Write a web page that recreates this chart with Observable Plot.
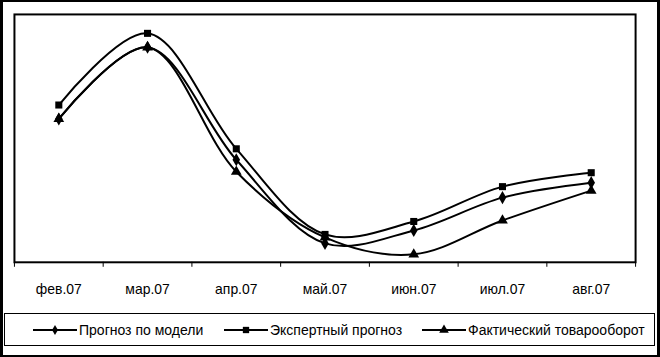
<!DOCTYPE html>
<html>
<head>
<meta charset="utf-8">
<script src="https://cdn.jsdelivr.net/npm/d3@7"></script>
<script src="https://cdn.jsdelivr.net/npm/@observablehq/plot@0.6"></script>
<style>
  html, body { margin: 0; padding: 0; background: #fff; }
  #wrap { position: relative; width: 660px; height: 357px; box-sizing: border-box; border: 2px solid #000; border-left-width: 3px; border-right-width: 3px; overflow: hidden; font-family: "Liberation Sans", Arial, sans-serif; }
  #chart { position: absolute; left: -3px; top: -2px; }
  #legend { position: absolute; left: 1px; top: 311px; width: 651px; height: 33px; box-sizing: border-box; border: 1px solid #000; font-size: 14px; color: #000; }
  .item { position: absolute; top: 0; height: 31px; display: flex; align-items: center; white-space: nowrap; }
  .item svg { margin-right: 2px; }
</style>
</head>
<body>
<div id="wrap"><div id="chart"></div><div id="legend"></div></div>
<script>
const months = ["фев.07", "мар.07", "апр.07", "май.07", "июн.07", "июл.07", "авг.07"];
const seriesNames = ["Прогноз по модели", "Экспертный прогноз", "Фактический товарооборот"];
const modelForecast = [144, 216, 103, 19, 32, 65, 80];
const expertForecast = [158, 230, 114, 28, 41, 76, 90];
const actualTurnover = [144, 216, 91, 25, 8, 42, 72];
const symbols = ["diamond", "square", "triangle"];

const all = [modelForecast, expertForecast, actualTurnover];
const rows = [];
all.forEach((vals, s) => vals.forEach((v, i) => rows.push({series: seriesNames[s], sym: symbols[s], i, v})));

const W = 660, H = 300;
const chart = Plot.plot({
  width: W, height: H,
  marginLeft: 14, marginRight: 22, marginTop: 14, marginBottom: 37,
  style: {fontFamily: "'Liberation Sans', Arial, sans-serif", fontSize: "14px", color: "#000", background: "transparent"},
  x: {type: "linear", domain: [-0.5, months.length - 0.5], label: null},
  y: {domain: [0, 249], axis: null, label: null},
  marks: [
    Plot.frame({stroke: "#000", strokeWidth: 2}),
    Plot.axisX({ticks: d3.range(-0.5, months.length, 1), tickFormat: () => "", tickSize: 5, stroke: "#000", strokeWidth: 1, label: null}),
    Plot.axisX({ticks: d3.range(0, months.length), tickFormat: i => months[i], tickSize: 0, tickPadding: 22, fill: "#000", label: null}),
    Plot.line(rows, {x: "i", y: "v", z: "series", curve: "catmull-rom", stroke: "#000", strokeWidth: 2}),
    Plot.dot(rows, {x: "i", y: "v", symbol: "sym", fill: "#000", stroke: "none", r: 4})
  ],
  symbol: {type: "identity"}
});
document.getElementById("chart").appendChild(chart);

// legend
const legendPos = [28, 219, 417];
const legend = document.getElementById("legend");
seriesNames.forEach((name, s) => {
  const div = document.createElement("div");
  div.className = "item";
  div.style.left = legendPos[s] + "px";
  const sw = d3.create("svg").attr("width", 44).attr("height", 12);
  sw.append("line").attr("x1", 0).attr("x2", 44).attr("y1", 6).attr("y2", 6).attr("stroke", "#000").attr("stroke-width", 2);
  const symSize = s === 0 ? 30 : 40;
  const symType = [d3.symbolDiamond, d3.symbolSquare, d3.symbolTriangle][s];
  sw.append("path").attr("d", d3.symbol(symType, symSize)()).attr("transform", "translate(22,6)").attr("fill", "#000");
  div.appendChild(sw.node());
  const t = document.createElement("span");
  t.textContent = name;
  div.appendChild(t);
  legend.appendChild(div);
});
</script>
</body>
</html>
